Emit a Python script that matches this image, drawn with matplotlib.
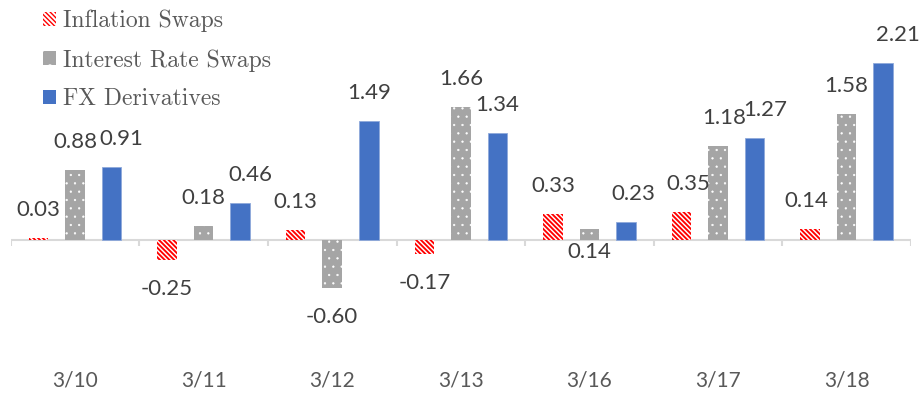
import matplotlib
matplotlib.use("Agg")
import matplotlib.pyplot as plt
from matplotlib.patches import Patch
import numpy as np

categories = ["3/10", "3/11", "3/12", "3/13", "3/16", "3/17", "3/18"]
inflation_swaps = [0.03, -0.25, 0.13, -0.17, 0.33, 0.35, 0.14]
interest_rate_swaps = [0.88, 0.18, -0.60, 1.66, 0.14, 1.18, 1.58]
fx_derivatives = [0.91, 0.46, 1.49, 1.34, 0.23, 1.27, 2.21]
series_names = ["Inflation Swaps", "Interest Rate Swaps", "FX Derivatives"]

W, H, DPI = 920, 398, 100
fig = plt.figure(figsize=(W / DPI, H / DPI), dpi=DPI)
ax_bottom_px = 365
ax = fig.add_axes([10.7 / W, (H - ax_bottom_px) / H, (911 - 10.7) / W, ax_bottom_px / H])
ax.set_xlim(-0.5, len(categories) - 0.5)
ax.set_ylim(-(ax_bottom_px - 240) / 80, 240 / 80)

x = np.arange(len(categories))
off = 0.284
bw = 0.152

RED = "#FF0000"
GRAY = "#A5A5A5"
BLUE = "#4472C4"
RED_HATCH = "\\" * 7
GRAY_HATCH = ".."

with plt.rc_context({"hatch.linewidth": 1.35}):
    red_bars = ax.bar(x - off, inflation_swaps, bw, facecolor="white", edgecolor=RED,
                      hatch=RED_HATCH, linewidth=0)
    red_handle = Patch(facecolor="white", edgecolor=RED, hatch=RED_HATCH, linewidth=0)
with plt.rc_context({"hatch.linewidth": 0.4}):
    gray_bars = ax.bar(x, interest_rate_swaps, bw, facecolor=GRAY, edgecolor="white",
                       hatch=GRAY_HATCH, linewidth=0)
    gray_handle = Patch(facecolor=GRAY, edgecolor="white", hatch=".", linewidth=0)
blue_bars = ax.bar(x + off, fx_derivatives, bw, facecolor=BLUE, edgecolor="#8EA9DB",
                   linewidth=0.6)
blue_handle = Patch(facecolor=BLUE, edgecolor=BLUE, linewidth=0)

# zero line and boundary ticks
ax.axhline(0, color="#D9D9D9", lw=1.5, zorder=0)
bounds = np.arange(len(categories) + 1) - 0.5
ax.vlines(bounds, -0.08, 0, color="#D9D9D9", lw=1.5, zorder=0)

for s in ax.spines.values():
    s.set_visible(False)
ax.set_yticks([])
ax.set_xticks(x)
ax.set_xticklabels(categories, fontsize=15, color="#595959", family="Lato")
ax.tick_params(axis="x", length=0, pad=4)

# data labels (pixel nudges for overlap avoidance as in the reference)
nudge = {
    (2, 0): 10, (2, 1): 10, (2, 4): 7, (0, 5): 7, (1, 5): 6, (2, 5): 11, (0, 6): -4, (2, 6): 15,
}
below_override = {(1, 4)}
all_series = [inflation_swaps, interest_rate_swaps, fx_derivatives]
offsets = [-off, 0, off]
for si, vals in enumerate(all_series):
    for ci, v in enumerate(vals):
        dx = nudge.get((si, ci), 0) * 72 / DPI
        if (si, ci) in below_override:
            dy = -12 * 72 / DPI
            base = 0
        elif v >= 0:
            dy = 28 * 72 / DPI
            base = v
        else:
            dy = -29 * 72 / DPI
            base = v
        ax.annotate(f"{v:.2f}", (ci + offsets[si], base), xytext=(dx, dy),
                    textcoords="offset points", ha="center", va="center",
                    fontsize=16, color="#404040", family="Lato")

leg = fig.legend([red_handle, gray_handle, blue_handle], series_names, loc="upper left",
                 bbox_to_anchor=(43 / W, 1 - 10 / H), frameon=False,
                 borderpad=0, borderaxespad=0, handlelength=0.55, handleheight=0.55,
                 handletextpad=0.3, labelspacing=0.7,
                 prop={"family": "cmr10", "size": 17})
for t in leg.get_texts():
    t.set_color("#595959")

fig.savefig("out.png", dpi=DPI)
